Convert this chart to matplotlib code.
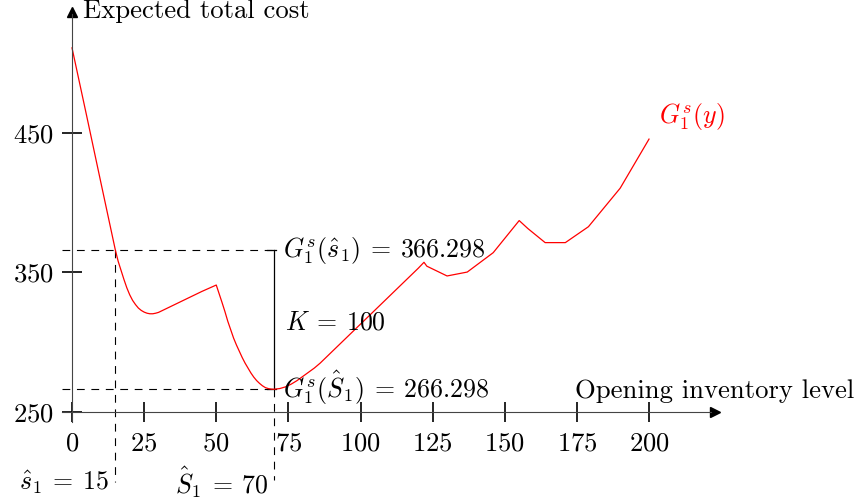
import matplotlib
matplotlib.use("Agg")
import matplotlib.pyplot as plt

plt.rcParams['font.family'] = 'cmr10'
plt.rcParams['mathtext.fontset'] = 'cm'
plt.rcParams['axes.unicode_minus'] = False
plt.rcParams['axes.formatter.use_mathtext'] = True

# curve
inv = [0, 5, 10, 15, 16, 17, 18, 19, 20, 21, 22, 23, 24, 25, 26, 27, 28, 29,
       30, 35, 40, 45, 50, 52, 53, 54, 55, 56, 57, 58, 59, 60, 61, 62, 63, 64,
       65, 66, 67, 68, 69, 70, 72, 74, 76, 78, 80, 82, 84, 86, 88, 90, 95,
       100, 105, 110, 115, 120, 122, 123, 130, 137, 146, 155, 158, 164, 171,
       179, 190, 200]
cost = [511, 463, 414.5, 366.3, 358, 351.5, 345, 339, 334, 330, 327, 324.5,
        322.8, 321.6, 320.8, 320.4, 320.4, 320.8, 321.4, 326.4, 331.4, 336.4,
        341, 328.5, 322, 315, 309, 303, 298, 293.5, 289, 285, 281.5, 278, 275,
        272.5, 270.5, 268.8, 267.5, 266.8, 266.4, 266.3, 266.8, 268, 270,
        272.5, 275.5, 278.5, 281.5, 285, 289, 293, 303, 313, 323, 333, 343,
        353, 357.3, 354.5, 347.5, 350.3, 364.2, 387.2, 381.5, 371.4, 371.4,
        382.8, 410.4, 445.6]

x_ticks = [0, 25, 50, 75, 100, 125, 150, 175, 200]
y_ticks = [250, 350, 450]
s_hat = 15
S_hat = 70
G_s = 366.298
G_S = 266.298
K = 100

fs = 19.2
mfs = 18.6

fig = plt.figure(figsize=(8.55, 5.04), dpi=100)
ax = fig.add_axes([0, 0, 1, 1])
ax.set_xlim(-24.96, 271.4)
ax.set_ylim(184.05, 545.3)
ax.patch.set_visible(False)

ax.spines['top'].set_visible(False)
ax.spines['right'].set_visible(False)
ax.spines['left'].set_position(('data', 0))
ax.spines['bottom'].set_position(('data', 250))
ax.spines['left'].set_bounds(242.8, 535.5)
ax.spines['bottom'].set_bounds(-3.5, 221.5)
for sp in ['left', 'bottom']:
    ax.spines[sp].set_color('#444444')
    ax.spines[sp].set_linewidth(0.8)
ax.plot([222.9], [250], marker='>', color='k', ms=7, clip_on=False)
ax.plot([0], [536.9], marker='^', color='k', ms=7, clip_on=False)

ax.set_xticks(x_ticks)
ax.set_yticks(y_ticks)
ax.tick_params(direction='inout', length=14, width=1.2, color='k',
               labelsize=fs)
ax.tick_params(axis='x', pad=7)
ax.tick_params(axis='y', pad=6)

# dashed guides
dash = dict(color='k', lw=0.8, dashes=(7, 6))
ax.plot([-3.5, S_hat], [G_s, G_s], clip_on=False, **dash)
ax.plot([-3.5, S_hat], [G_S, G_S], clip_on=False, **dash)
ax.plot([s_hat, s_hat], [G_s, 199.8], clip_on=False, **dash)
ax.plot([S_hat, S_hat], [G_S, 201.0], clip_on=False, **dash)

# K bracket
ax.plot([S_hat, S_hat], [G_S, G_s], color='k', lw=0.9)
ax.plot([S_hat - 2.5, S_hat + 0.8], [G_s, G_s], color='k', lw=0.9)
ax.plot([S_hat - 2.5, S_hat + 0.8], [G_S, G_S], color='k', lw=0.9)

ax.plot(inv, cost, color='red', lw=0.9)

ax.text(3.8, 532.4, 'Expected total cost', fontsize=fs, va='baseline')
ax.text(174.4, 259.7, 'Opening inventory level', fontsize=fs, va='baseline')
ax.text(203.5, 457.2, r'$G_1^s(y)$', fontsize=mfs, va='baseline', color='red')
ax.text(73.3, 361.3, r'$G_1^s(\hat{s}_1)\:=\:366.298$', fontsize=mfs,
        va='baseline')
ax.text(73.8, 309.3, r'$K\:=\:100$', fontsize=mfs, va='baseline')
ax.text(73.3, 260.0, r'$G_1^s(\hat{S}_1)\:=\:266.298$', fontsize=mfs,
        va='baseline')
ax.text(-18.3, 194.1, r'$\hat{s}_1\:=\:15$', fontsize=mfs, va='baseline')
ax.text(35.8, 191.4, r'$\hat{S}_1\:=\:70$', fontsize=mfs, va='baseline')

fig.savefig('out.png', dpi=100)
